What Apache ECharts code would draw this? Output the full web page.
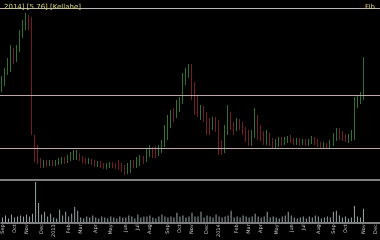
<!DOCTYPE html>
<html><head><meta charset="utf-8">
<script src="https://cdn.jsdelivr.net/npm/echarts@6/dist/echarts.min.js"></script>
<style>html,body{margin:0;padding:0;background:#000}#c{width:380px;height:240px}</style>
</head><body><div id="c"></div>
<script>
// weekly OHLC
const opens  = [4.6,4.9,5.4,5.7,6.4,6.0,6.5,7.2,7.7,8.15,7.8,2.0,1.5,1.0,0.7,0.85,0.75,0.9,0.8,0.85,0.9,1.0,0.95,1.1,1.1,1.15,1.25,1.1,1.0,0.9,0.95,0.9,0.75,0.85,0.75,0.65,0.7,0.8,0.75,0.8,0.7,0.6,0.5,0.6,0.85,0.7,0.9,1.1,1.0,1.3,1.55,1.4,1.3,1.5,1.75,2.25,2.75,3.35,3.25,3.6,3.9,5.0,5.3,5.6,4.75,4.0,3.25,3.5,3.2,2.9,2.65,3.0,2.75,1.85,1.5,2.5,3.25,2.75,2.6,2.9,2.75,2.5,2.25,1.85,2.25,3.1,2.6,2.25,1.95,2.2,1.95,1.75,1.85,2.0,1.85,1.95,2.1,2.0,1.85,2.0,1.85,1.95,1.8,1.9,2.05,1.95,1.8,1.65,1.75,1.65,1.8,2.1,2.4,2.25,2.15,2.0,2.1,2.25,3.9,4.0,4.15];
const closes = [5.0,5.4,5.9,6.5,6.0,6.6,7.25,7.8,8.2,7.75,2.5,1.1,1.0,0.7,0.9,0.75,0.9,0.8,0.9,1.0,1.05,0.9,1.15,1.2,1.35,1.35,1.05,0.95,0.9,1.0,0.85,0.75,0.85,0.7,0.65,0.75,0.8,0.7,0.65,0.6,0.5,0.4,0.7,0.9,0.7,1.0,1.1,0.9,1.4,1.55,1.25,1.2,1.6,1.85,2.5,2.9,3.25,3.1,3.75,4.0,5.1,5.4,5.6,4.75,4.0,3.5,3.5,3.1,2.75,2.6,3.0,2.6,1.75,1.5,2.5,3.25,2.75,2.5,2.9,2.65,2.4,2.1,1.9,2.25,3.1,2.6,2.15,1.95,2.2,1.9,1.75,1.95,2.0,1.85,2.05,2.1,1.95,1.85,2.0,1.85,1.95,1.85,1.95,2.05,1.9,1.75,1.7,1.75,1.65,1.85,2.1,2.4,2.2,2.1,2.0,2.15,2.35,4.0,4.1,4.2,6.0];
const lows   = [4.4,4.7,5.25,5.4,5.8,5.9,6.4,7.1,7.5,7.5,2.25,0.9,0.8,0.6,0.6,0.65,0.7,0.7,0.7,0.75,0.8,0.8,0.85,0.95,1.0,1.0,0.95,0.85,0.8,0.8,0.75,0.65,0.65,0.6,0.55,0.55,0.6,0.6,0.55,0.5,0.4,0.25,0.3,0.35,0.6,0.6,0.7,0.8,0.9,1.15,1.1,1.1,1.2,1.35,1.65,2.0,2.6,2.9,3.1,3.4,3.8,4.75,5.1,4.0,3.25,3.15,3.0,2.9,2.25,2.25,2.5,2.4,1.25,1.25,1.35,2.25,2.5,2.25,2.45,2.5,2.25,1.9,1.7,1.7,2.1,2.0,1.95,1.75,1.75,1.7,1.6,1.6,1.65,1.7,1.75,1.85,1.85,1.75,1.75,1.7,1.75,1.7,1.7,1.8,1.75,1.65,1.6,1.55,1.55,1.55,1.7,1.95,2.0,1.95,1.9,1.85,1.95,2.0,3.6,3.8,4.0];
const highs  = [5.2,5.6,6.1,6.75,6.6,6.75,7.5,8.0,8.35,8.25,8.15,2.25,1.75,1.1,1.0,1.0,1.0,1.0,1.0,1.1,1.15,1.15,1.25,1.4,1.5,1.5,1.35,1.2,1.1,1.1,1.05,1.0,0.95,0.95,0.85,0.85,0.9,0.9,0.85,1.0,0.85,0.75,0.85,1.0,1.0,1.15,1.25,1.2,1.6,1.75,1.65,1.7,1.75,2.0,2.75,3.25,3.5,3.6,4.0,4.15,5.35,5.6,5.8,5.8,4.9,4.25,3.75,3.7,3.4,3.1,3.15,3.15,3.0,2.0,2.75,3.75,3.4,2.9,3.1,3.05,2.9,2.65,2.5,2.5,3.6,3.25,2.75,2.45,2.5,2.35,2.1,2.05,2.15,2.15,2.15,2.2,2.25,2.1,2.1,2.1,2.05,2.05,2.05,2.2,2.15,2.05,1.9,1.9,1.85,2.0,2.35,2.6,2.6,2.45,2.3,2.3,2.5,4.15,4.25,4.4,6.15];
const volumes = [5,7,4,8,5,6,7,6,8,6,9,42,20,8,11,6,9,5,4,13,7,11,6,9,16,12,5,4,6,5,7,5,4,6,5,4,6,5,4,6,5,5,7,6,4,8,5,6,6,7,5,4,6,8,6,5,6,5,10,6,7,5,6,10,6,6,11,5,7,6,5,8,6,5,6,7,12,5,6,5,7,6,5,6,9,6,5,6,11,5,6,5,4,6,7,11,7,5,4,5,6,4,6,5,7,6,4,5,6,5,11,12,7,5,6,4,5,17,6,5,14];
const levels = [8.6, 4.25, 1.6];
const weekCount = 126;
const monthTicks = {0:'Sep',4:'Oct',8:'Nov',13:'Dec',17:'2013',22:'Feb',26:'Mar',31:'Apr',36:'May',41:'Jun',45:'Jul',49:'Aug',55:'Sep',59:'Oct',63:'Nov',68:'Dec',72:'2014',78:'Feb',82:'Mar',86:'Apr',91:'May',96:'Jun',100:'Jul',105:'Aug',110:'Sep',114:'Oct',120:'Nov',124:'Dec'};
const titleLeft = '2014] [5.76] [Kellahe]';
const titleRight = 'Fib';

const categories = Array.from({length: weekCount}, (_, i) => monthTicks[i] || '');
const ohlc = opens.map((o, i) => [o, closes[i], lows[i], highs[i]]);

const chart = echarts.init(document.getElementById('c'), null, {renderer: 'canvas'});
chart.setOption({
  backgroundColor: '#000',
  animation: false,
  textStyle: {fontFamily: 'DejaVu Sans'},
  title: [
    {text: titleLeft, left: -1, top: -1, textStyle: {color: '#d8d070', fontSize: 7, fontWeight: 'normal', fontFamily: 'DejaVu Sans'}},
    {text: titleRight, right: 0, top: -1, textStyle: {color: '#d8d070', fontSize: 7, fontWeight: 'normal', fontFamily: 'DejaVu Sans'}}
  ],
  grid: [
    {left: 0, right: 0, top: 8, height: 172},
    {left: 0, right: 0, top: 181, height: 43}
  ],
  xAxis: [
    {type: 'category', gridIndex: 0, data: categories, boundaryGap: true,
     axisLine: {lineStyle: {color: '#a8a8a8', width: 1.5}}, axisTick: {show: false}, axisLabel: {show: false}, splitLine: {show: false}},
    {type: 'category', gridIndex: 1, data: categories, boundaryGap: true,
     axisLine: {lineStyle: {color: '#a8a8a8', width: 1.5}}, axisTick: {show: false},
     axisLabel: {interval: 0, rotate: 90, color: '#c8c8c8', fontSize: 5, margin: 2, fontFamily: 'DejaVu Sans'},
     splitLine: {show: false}}
  ],
  yAxis: [
    {type: 'value', gridIndex: 0, min: 0, max: 8.6, show: false, splitLine: {show: false}},
    {type: 'value', gridIndex: 1, min: 0, max: 43, show: false, splitLine: {show: false}}
  ],
  series: [
    {type: 'candlestick', xAxisIndex: 0, yAxisIndex: 0, data: ohlc, barWidth: 1,
     itemStyle: {color: '#3c8e3c', color0: '#8e2630', borderColor: '#3c8e3c', borderColor0: '#8e2630', borderWidth: 0.8},
     markLine: {symbol: 'none', silent: true, label: {show: false},
       data: levels.map((v, i) => ({yAxis: v, lineStyle: {color: i === 0 ? '#b8b8b8' : '#bca8a8', width: 1, type: 'solid'}}))}
    },
    {type: 'bar', xAxisIndex: 1, yAxisIndex: 1, data: volumes, barWidth: 1,
     itemStyle: {color: '#98a6a6'}}
  ]
});
</script></body></html>
